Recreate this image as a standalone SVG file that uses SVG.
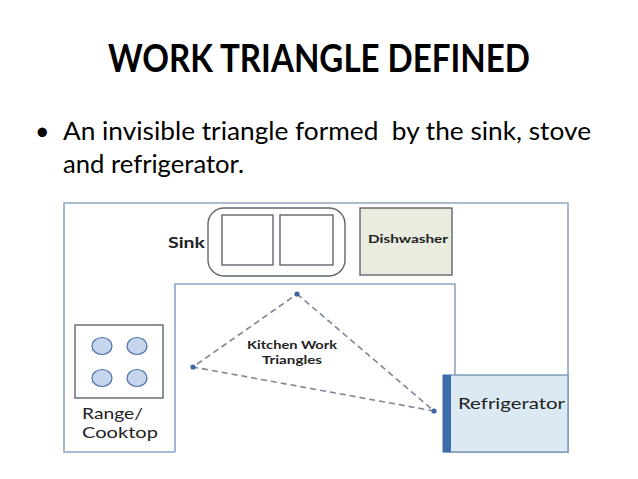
<svg xmlns="http://www.w3.org/2000/svg" width="638" height="479" viewBox="0 0 638 479">
<style>
.title{font-family:Lato,"Open Sans","Liberation Sans",sans-serif;font-weight:bold;font-size:38px;fill:#000}
.body{font-family:Lato,"Open Sans","Liberation Sans",sans-serif;font-size:25px;fill:#000}
.lbl{font-family:Lato,"Open Sans","Liberation Sans",sans-serif;fill:#222}
.wall{fill:none;stroke:#8ea6c4;stroke-width:1.6}
.fix{stroke:#5f666e;stroke-width:1.4}
.tri{stroke:#7d8896;stroke-width:1.6;stroke-dasharray:6 4;fill:none}
.dot{fill:#3f65a0}
.burner{fill:#c5d5ee;stroke:#4a6ea6;stroke-width:1.2}
</style>
<rect width="638" height="479" fill="#fff"/>
<text class="title" x="319" y="72" text-anchor="middle" textLength="422" lengthAdjust="spacingAndGlyphs">WORK TRIANGLE DEFINED</text>
<text class="body" x="35" y="140" font-size="28">•</text>
<text class="body" x="63" y="140" textLength="528" lengthAdjust="spacingAndGlyphs" xml:space="preserve">An invisible triangle formed  by the sink, stove</text>
<text class="body" x="63" y="173" textLength="181" lengthAdjust="spacingAndGlyphs">and refrigerator.</text>
<g id="room">
<path class="wall" d="M175,452 L64,452 L64,203 L568,203 L568,452 L443,452"/>
<path class="wall" d="M175,452 L175,284 L455,284 L455,375"/>
</g>
<g id="sink">
<rect class="fix" x="208" y="208" width="137" height="68" rx="16" fill="#fff"/>
<rect class="fix" x="222" y="215" width="51" height="50" fill="#fff"/>
<rect class="fix" x="280" y="215" width="53" height="50" fill="#fff"/>
<text class="lbl" x="168" y="248" font-size="15" font-weight="bold" textLength="37" lengthAdjust="spacingAndGlyphs">Sink</text>
</g>
<g id="dishwasher">
<rect class="fix" x="360" y="208" width="92" height="67" fill="#e9ecdf"/>
<text class="lbl" x="368" y="243" font-size="12" font-weight="bold" textLength="80" lengthAdjust="spacingAndGlyphs">Dishwasher</text>
</g>
<g id="range">
<rect class="fix" x="75" y="325" width="88" height="73" fill="#fff"/>
<ellipse class="burner" cx="102" cy="346" rx="10" ry="8.5"/>
<ellipse class="burner" cx="137" cy="346" rx="10" ry="8.5"/>
<ellipse class="burner" cx="102" cy="378" rx="10" ry="8.5"/>
<ellipse class="burner" cx="137" cy="378" rx="10" ry="8.5"/>
<text class="lbl" x="82" y="419" font-size="16" textLength="61" lengthAdjust="spacingAndGlyphs">Range/</text>
<text class="lbl" x="82" y="438" font-size="16" textLength="76" lengthAdjust="spacingAndGlyphs">Cooktop</text>
</g>
<g id="refrigerator">
<rect x="443" y="375" width="125" height="77" fill="#dbe9f3" stroke="#7b95b5" stroke-width="1.4"/>
<rect x="443" y="375" width="8" height="77" fill="#3d6cae"/>
<text class="lbl" x="458" y="409" font-size="16" textLength="107" lengthAdjust="spacingAndGlyphs">Refrigerator</text>
</g>
<g id="connectors">
<path class="tri" d="M297,294 L434,411 L193,367 Z"/>
<circle class="dot" cx="297" cy="294" r="2.6"/>
<circle class="dot" cx="193" cy="367" r="2.6"/>
<circle class="dot" cx="434" cy="411" r="2.6"/>
<text class="lbl" x="292" y="349" font-size="11" font-weight="bold" text-anchor="middle" textLength="90" lengthAdjust="spacingAndGlyphs" fill="#333">Kitchen Work</text>
<text class="lbl" x="292" y="364" font-size="11" font-weight="bold" text-anchor="middle" textLength="60" lengthAdjust="spacingAndGlyphs" fill="#333">Triangles</text>
</g>
</svg>
